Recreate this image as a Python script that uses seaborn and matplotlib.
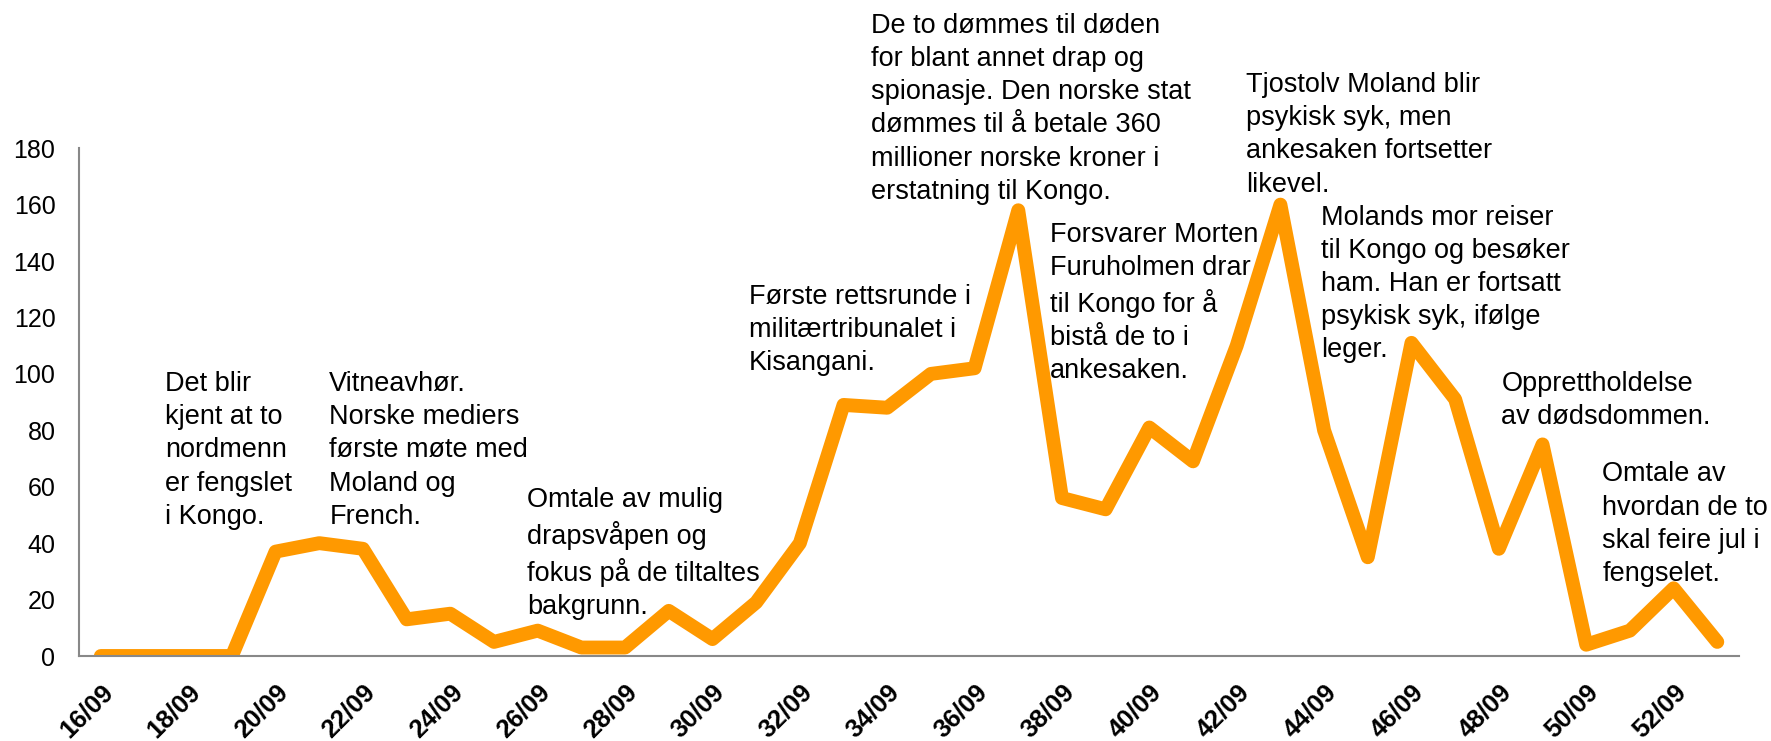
import matplotlib
matplotlib.use("Agg")
import matplotlib.pyplot as plt
import seaborn as sns
import pandas as pd
import numpy as np

sns.set_theme(style="white")
plt.rcParams['font.family'] = ['Liberation Sans', 'DejaVu Sans']

uker = [f"{u}/09" for u in range(16, 54)]
artikler = [0, 0, 0, 0, 37, 40, 38, 13, 15, 5, 9, 3, 3, 16, 6, 19, 40, 89, 88,
            100, 102, 158, 56, 52, 81, 69, 110, 160, 80, 35, 111, 91, 38, 75,
            4, 9, 24, 5]

hendelser = [
    "Det blir\nkjent at to\nnordmenn\ner fengslet\ni Kongo.",
    "Vitneavhør.\nNorske mediers\nførste møte med\nMoland og\nFrench.",
    "Omtale av mulig\ndrapsvåpen og\nfokus på de tiltaltes\nbakgrunn.",
    "Første rettsrunde i\nmilitærtribunalet i\nKisangani.",
    "De to dømmes til døden\nfor blant annet drap og\nspionasje. Den norske stat\n"
    "dømmes til å betale 360\nmillioner norske kroner i\nerstatning til Kongo.",
    "Forsvarer Morten\nFuruholmen drar\ntil Kongo for å\nbistå de to i\nankesaken.",
    "Tjostolv Moland blir\npsykisk syk, men\nankesaken fortsetter\nlikevel.",
    "Molands mor reiser\ntil Kongo og besøker\nham. Han er fortsatt\npsykisk syk, ifølge\nleger.",
    "Opprettholdelse\nav dødsdommen.",
    "Omtale av\nhvordan de to\nskal feire jul i\nfengselet.",
]
# (x-posisjon i uker fra start, y-topp)
hendelse_x = [1.47, 5.23, 9.75, 14.84, 17.63, 21.73, 26.22, 27.94, 32.06, 34.37]
hendelse_y = [101, 101, 60, 132, 228, 154, 207, 160, 101, 69]

df = pd.DataFrame({"uke": uker, "antall": artikler})
df["pos"] = np.arange(len(df))

fig = plt.figure(figsize=(17.71, 7.41), dpi=100)
ax = fig.add_axes([0.0446, 0.1147, 0.9374, 0.6853])

sns.lineplot(data=df, x="pos", y="antall", ax=ax, color="#FF9900",
             linewidth=10, solid_joinstyle="round", solid_capstyle="round")

ax.set_xlim(-0.5, len(uker) - 0.5)
ax.set_ylim(0, 180)
ax.set_yticks(range(0, 181, 20))
ax.set_yticklabels([str(v) for v in range(0, 181, 20)], fontsize=18)
ax.set_xticks(df["pos"][::2])
ax.set_xticklabels(df["uke"][::2], rotation=45, ha="right",
                   rotation_mode="anchor", fontsize=18.5, fontweight="bold")
ax.tick_params(axis="x", pad=17, length=0, labelcolor="black")
ax.tick_params(axis="y", pad=17, length=0, labelcolor="black")
ax.set_xlabel("")
ax.set_ylabel("")

for side in ["top", "right"]:
    ax.spines[side].set_visible(False)
for side in ["left", "bottom"]:
    ax.spines[side].set_color("#888888")
    ax.spines[side].set_linewidth(1.5)
    ax.spines[side].set_zorder(3)

for tekst, x, y in zip(hendelser, hendelse_x, hendelse_y):
    ax.text(x, y, tekst, fontsize=19.5, va="top", ha="left",
            linespacing=1.36, clip_on=False, color="black")

fig.savefig("out.png", dpi=100)
